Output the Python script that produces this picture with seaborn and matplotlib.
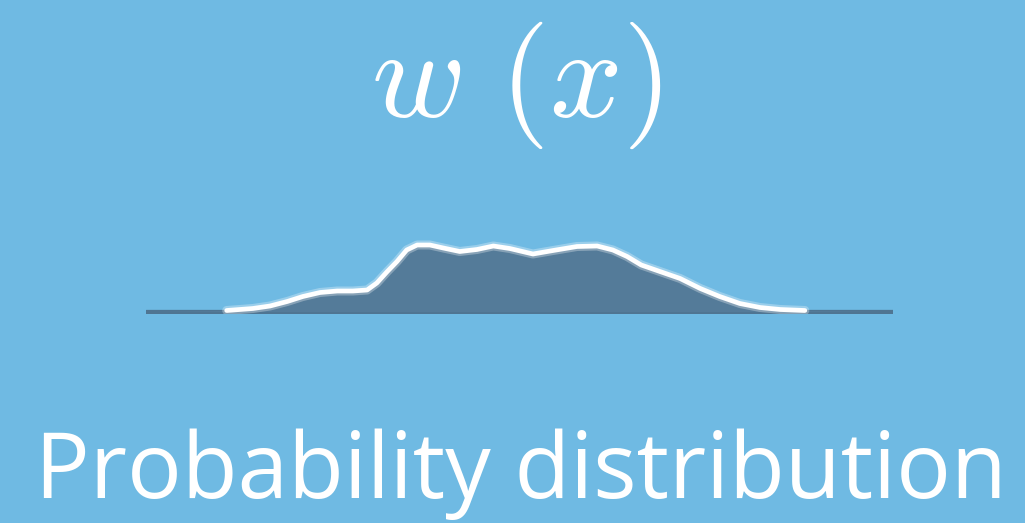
import matplotlib
matplotlib.use("Agg")
import matplotlib.pyplot as plt
import seaborn as sns
import pandas as pd

# Data (x position, density height)
x_vals = [0.0, 1.08, 1.43, 1.66, 1.89, 2.10, 2.33, 2.56, 2.77, 2.96, 3.09, 3.23,
          3.36, 3.49, 3.63, 3.80, 3.98, 4.20, 4.43, 4.65, 4.87, 5.18, 5.45,
          5.77, 6.04, 6.25, 6.44, 6.63, 6.88, 7.15, 7.42, 7.68, 7.95, 8.22,
          8.49, 8.82, 10.0]
density = [0, 1, 3, 5.5, 10, 15, 19, 20.5, 20.5, 21.5, 28.5, 40,
           50, 61.5, 66.5, 66.5, 63.5, 60, 62, 65.5, 63, 57.5, 61,
           65, 65.5, 61.5, 55, 46.5, 40, 33, 23, 15, 8, 4,
           2, 1, 0]
title_text = r"$w\ (x)$"
label_text = "Probability distribution"

BG = "#6fbae3"
FILL = "#547b99"
LINE = "#4f7592"

sns.set_theme(style="white")
plt.rcParams["font.family"] = ["Open Sans", "DejaVu Sans"]
plt.rcParams["mathtext.fontset"] = "cm"

df = pd.DataFrame({"x": x_vals, "w": density})
curve = df[(df["x"] > 0.5) & (df["x"] < 9.5)]

fig = plt.figure(figsize=(10.25, 5.23), dpi=100, facecolor=BG)
# axes: x 0..10 -> px 146..893 ; 1 unit of w = 1 px, baseline at 311.5 px
left = 146 / 1025
width = (893 - 146) / 1025
bottom = (523 - 314) / 523
height = 114 / 523
ax = fig.add_axes([left, bottom, width, height])
ax.set_facecolor(BG)

ax.axhline(0, color=LINE, linewidth=3.8, zorder=1)
ax.fill_between(df["x"], 0, df["w"], color=FILL, linewidth=0, zorder=2)
# soft glow under the white outline
sns.lineplot(data=curve, x="x", y="w", ax=ax, color="white", linewidth=6.5,
             alpha=0.3, zorder=3, estimator=None, sort=False,
             solid_joinstyle="round", solid_capstyle="round")
sns.lineplot(data=curve, x="x", y="w", ax=ax, color="white", linewidth=3.4,
             zorder=4, estimator=None, sort=False,
             solid_joinstyle="round", solid_capstyle="round")

ax.set_xlim(0, 10)
ax.set_ylim(-2.5, 111.5)
ax.set_axis_off()

fig.text(516 / 1025, 1 - 85 / 523, title_text, color="white", fontsize=92,
         ha="center", va="center")
lab = fig.text(521 / 1025, 1 - 498 / 523, label_text, color="white", fontsize=60,
               ha="center", va="baseline")
# fit label width to the reference (about 972 px)
fig.canvas.draw()
w_px = lab.get_window_extent().width
lab.set_fontsize(60 * 972 / w_px)

fig.savefig("out.png", dpi=100, facecolor=BG)
